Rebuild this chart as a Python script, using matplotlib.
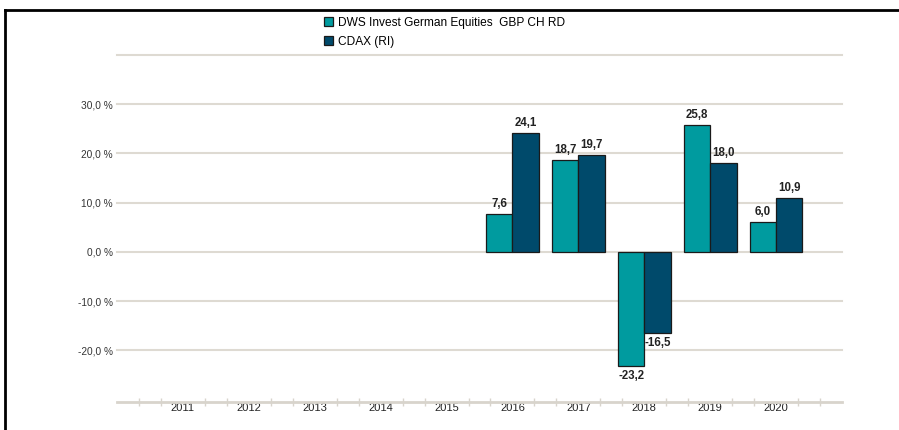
import numpy as np
import matplotlib.pyplot as plt
from matplotlib.lines import Line2D

plt.rcParams['font.family'] = ['Liberation Sans', 'DejaVu Sans']

years = ['2011', '2012', '2013', '2014', '2015', '2016', '2017', '2018', '2019', '2020']
fund = [np.nan, np.nan, np.nan, np.nan, np.nan, 7.6, 18.7, -23.2, 25.8, 6.0]
cdax = [np.nan, np.nan, np.nan, np.nan, np.nan, 24.1, 19.7, -16.5, 18.0, 10.9]
series_names = ['DWS Invest German Equities  GBP CH RD', 'CDAX (RI)']
colors = ['#009b9f', '#004a6b']

fig = plt.figure(figsize=(8.99, 4.30), dpi=100)
ax = fig.add_axes([117/899, 1 - 402/430, 725/899, 347/430])

x = np.arange(len(years))
w = 0.4
b1 = ax.bar(x - w/2, fund, w, color=colors[0], edgecolor='#1a1a1a', linewidth=0.9, label=series_names[0], zorder=3)
b2 = ax.bar(x + w/2, cdax, w, color=colors[1], edgecolor='#1a1a1a', linewidth=0.9, label=series_names[1], zorder=3)

def fmt(v):
    return ('%.1f' % v).replace('.', ',')

for bars, vals in [(b1, fund), (b2, cdax)]:
    for rect, v in zip(bars, vals):
        if np.isnan(v):
            continue
        cx = rect.get_x() + rect.get_width() / 2
        if v >= 0:
            ax.annotate(fmt(v), (cx, v), xytext=(0, 3), textcoords='offset points',
                        ha='center', va='bottom', fontsize=8.3, fontweight='bold', color='#222222')
        else:
            ax.annotate(fmt(v), (cx, v), xytext=(0, -3), textcoords='offset points',
                        ha='center', va='top', fontsize=8.3, fontweight='bold', color='#222222')

ax.set_xlim(-1, 10)
ax.set_ylim(-30.5, 40)

yt = [-20, -10, 0, 10, 20, 30, 40]
ax.set_yticks(yt)
ax.set_yticklabels([fmt(v) + ' %' if v < 40 else '' for v in yt], fontsize=7.3, color='#333333')
ax.tick_params(axis='y', length=0, pad=3)
ax.grid(axis='y', color='#dedad2', linewidth=1.5, zorder=0)
for gl in ax.get_ygridlines():
    gl.set_clip_on(False)

ax.set_xticks(x)
ax.set_xticklabels(years, fontsize=8, color='#222222')
ax.tick_params(axis='x', length=0, pad=0.5)
minor = [p / 3 for p in range(-3, 31) if p % 3 != 0]
ax.set_xticks(minor, minor=True)
ax.tick_params(axis='x', which='minor', length=6, direction='inout', color='#d8d4cc', width=1)

for s in ['top', 'right', 'left']:
    ax.spines[s].set_visible(False)
ax.spines['bottom'].set_color('#d8d4cc')
ax.spines['bottom'].set_linewidth(2)

fig.legend(handles=[b1, b2], loc='upper left', bbox_to_anchor=(319/899, 1 - 12/430),
           frameon=False, fontsize=8.6, handlelength=0.8, handleheight=0.8,
           handletextpad=0.35, labelspacing=0.6, borderaxespad=0)

# frame lines of the original crop
fig.add_artist(Line2D([5/899, 1], [1 - 10/430, 1 - 10/430], color='black', linewidth=2, transform=fig.transFigure))
fig.add_artist(Line2D([5/899, 5/899], [0, 1 - 10/430], color='black', linewidth=2, transform=fig.transFigure))

fig.savefig('out.png', dpi=100)
